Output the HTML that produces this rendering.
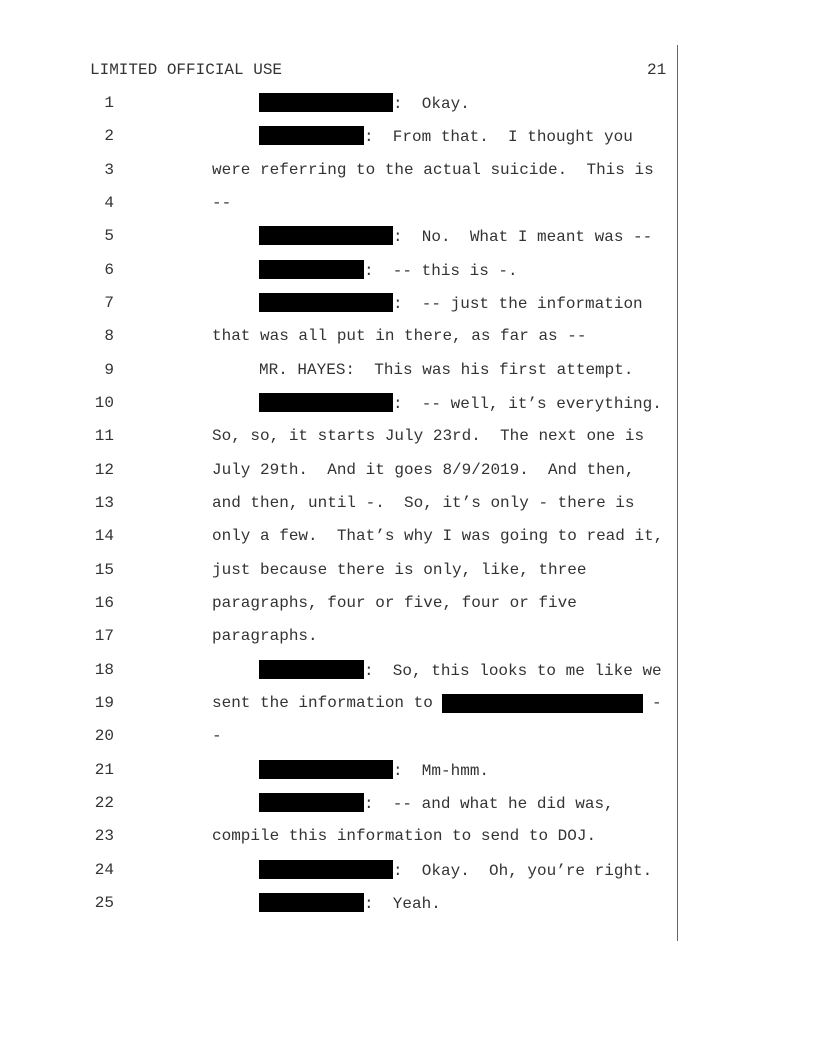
<!DOCTYPE html>
<html><head><meta charset="utf-8"><style>
body{margin:0;background:#fff;}
#p{position:relative;width:816px;height:1056px;overflow:hidden;font-family:"Liberation Mono","Courier New",monospace;font-size:16px;color:#333;}
.l{position:absolute;height:20px;line-height:20px;white-space:pre;}
.n{position:absolute;width:30px;left:84px;text-align:right;height:20px;line-height:20px;}
.r{display:inline-block;background:#000;height:19px;vertical-align:-4px;}
#v{position:absolute;left:677px;top:45px;width:1px;height:896px;background:#666;}
</style></head><body><div id="p">
<div id="v"></div>
<div class="l" style="left:90px;top:60px">LIMITED OFFICIAL USE</div>
<div class="l" style="left:647px;top:60px">21</div>

<div class="n" style="top:93px">1</div>
<div class="l" style="left:259px;top:93px"><span class="r" style="width:134px"></span>:  Okay.</div>
<div class="n" style="top:126px">2</div>
<div class="l" style="left:259px;top:126px"><span class="r" style="width:105px"></span>:  From that.  I thought you</div>
<div class="n" style="top:160px">3</div>
<div class="l" style="left:212px;top:160px">were referring to the actual suicide.  This is</div>
<div class="n" style="top:193px">4</div>
<div class="l" style="left:212px;top:193px">--</div>
<div class="n" style="top:226px">5</div>
<div class="l" style="left:259px;top:226px"><span class="r" style="width:134px"></span>:  No.  What I meant was --</div>
<div class="n" style="top:260px">6</div>
<div class="l" style="left:259px;top:260px"><span class="r" style="width:105px"></span>:  -- this is -.</div>
<div class="n" style="top:293px">7</div>
<div class="l" style="left:259px;top:293px"><span class="r" style="width:134px"></span>:  -- just the information</div>
<div class="n" style="top:326px">8</div>
<div class="l" style="left:212px;top:326px">that was all put in there, as far as --</div>
<div class="n" style="top:360px">9</div>
<div class="l" style="left:259px;top:360px">MR. HAYES:  This was his first attempt.</div>
<div class="n" style="top:393px">10</div>
<div class="l" style="left:259px;top:393px"><span class="r" style="width:134px"></span>:  -- well, it’s everything.</div>
<div class="n" style="top:426px">11</div>
<div class="l" style="left:212px;top:426px">So, so, it starts July 23rd.  The next one is</div>
<div class="n" style="top:460px">12</div>
<div class="l" style="left:212px;top:460px">July 29th.  And it goes 8/9/2019.  And then,</div>
<div class="n" style="top:493px">13</div>
<div class="l" style="left:212px;top:493px">and then, until -.  So, it’s only - there is</div>
<div class="n" style="top:526px">14</div>
<div class="l" style="left:212px;top:526px">only a few.  That’s why I was going to read it,</div>
<div class="n" style="top:560px">15</div>
<div class="l" style="left:212px;top:560px">just because there is only, like, three</div>
<div class="n" style="top:593px">16</div>
<div class="l" style="left:212px;top:593px">paragraphs, four or five, four or five</div>
<div class="n" style="top:626px">17</div>
<div class="l" style="left:212px;top:626px">paragraphs.</div>
<div class="n" style="top:660px">18</div>
<div class="l" style="left:259px;top:660px"><span class="r" style="width:105px"></span>:  So, this looks to me like we</div>
<div class="n" style="top:693px">19</div>
<div class="l" style="left:212px;top:693px">sent the information to </div>
<div style="position:absolute;left:442px;top:694px;width:201px;height:19px;background:#000"></div>
<div class="l" style="left:652px;top:693px">-</div>
<div class="n" style="top:726px">20</div>
<div class="l" style="left:212px;top:726px">-</div>
<div class="n" style="top:760px">21</div>
<div class="l" style="left:259px;top:760px"><span class="r" style="width:134px"></span>:  Mm-hmm.</div>
<div class="n" style="top:793px">22</div>
<div class="l" style="left:259px;top:793px"><span class="r" style="width:105px"></span>:  -- and what he did was,</div>
<div class="n" style="top:826px">23</div>
<div class="l" style="left:212px;top:826px">compile this information to send to DOJ.</div>
<div class="n" style="top:860px">24</div>
<div class="l" style="left:259px;top:860px"><span class="r" style="width:134px"></span>:  Okay.  Oh, you’re right.</div>
<div class="n" style="top:893px">25</div>
<div class="l" style="left:259px;top:893px"><span class="r" style="width:105px"></span>:  Yeah.</div>
</div></body></html>
